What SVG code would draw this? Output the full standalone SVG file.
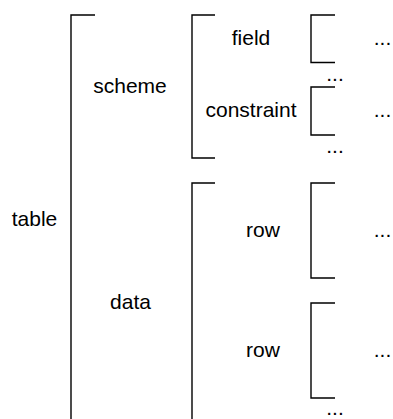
<svg xmlns="http://www.w3.org/2000/svg" width="393" height="419" viewBox="0 0 393 419">
<style>
.br{fill:none;stroke:#000;stroke-width:1.4}
text{font-family:"Liberation Sans",Arial,sans-serif;font-size:21px;fill:#000;text-anchor:middle}
</style>
<rect width="393" height="419" fill="#fff"/>
<g id="connectors">
<path class="br" d="M95,15H71V419"/>
<path class="br" d="M215,15H192V158H215"/>
<path class="br" d="M215,183H192V419"/>
<path class="br" d="M335,15H311V62.5H335"/>
<path class="br" d="M335,87H311V135H335"/>
<path class="br" d="M335,183H311V278H335"/>
<path class="br" d="M335,303H311V398H335"/>
</g>
<g id="table"><text x="34.5" y="226">table</text></g>
<g id="scheme"><text x="130" y="93">scheme</text></g>
<g id="data"><text x="130.5" y="309">data</text></g>
<g id="field"><text x="251" y="45">field</text></g>
<g id="constraint"><text x="251" y="117">constraint</text></g>
<g id="row1"><text x="263" y="237">row</text></g>
<g id="row2"><text x="263" y="357">row</text></g>
<g id="dots">
<text x="382.5" y="45">...</text>
<text x="382.5" y="116.5">...</text>
<text x="382.5" y="236.5">...</text>
<text x="382.5" y="356.5">...</text>
<text x="335" y="81">...</text>
<text x="335" y="153">...</text>
<text x="335" y="415">...</text>
</g>
</svg>
